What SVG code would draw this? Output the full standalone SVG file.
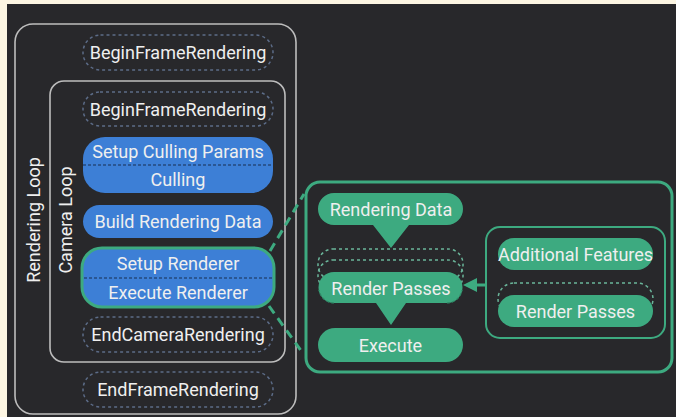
<svg xmlns="http://www.w3.org/2000/svg" width="676" height="417" viewBox="0 0 676 417">
<defs>
<style>
text{font-family:Roboto,"Liberation Sans",sans-serif;font-size:18px;fill:#efefef;text-anchor:middle;dominant-baseline:central}
.loop{fill:none;stroke:#bdbdbd;stroke-width:1.6}
.ghost{fill:none;stroke:#5c6c88;stroke-width:1.5;stroke-dasharray:3 3}
.blue{fill:#3d7fd6}
.div{stroke:#244a7e;stroke-width:1.5;stroke-dasharray:3 2}
.green{fill:#3daa80}
.gframe{fill:none;stroke:#3daa80;stroke-width:3}
.gstack{fill:none;stroke:#6ab59a;stroke-width:1.5;stroke-dasharray:3 3}
.gdash{fill:none;stroke:#3daa80;stroke-width:3;stroke-dasharray:9 6}
.gedge{fill:none;stroke:#2f8a67;stroke-width:1.2;stroke-dasharray:3 2}
</style>
</defs>
<rect x="0" y="0" width="676" height="417" fill="#fdf6e3"/>
<rect x="7" y="4" width="669" height="413" fill="#28282b"/>

<g id="rendering-loop">
<rect class="loop" x="15" y="24" width="281" height="390" rx="18"/>
<text transform="translate(33,220) rotate(-90)">Rendering Loop</text>
</g>
<g id="camera-loop">
<rect class="loop" x="50" y="81" width="235" height="281" rx="14"/>
<text transform="translate(65,220) rotate(-90)">Camera Loop</text>
</g>

<g id="begin-frame-outer">
<rect class="ghost" x="83" y="35" width="190" height="35" rx="17.5"/>
<text x="178" y="52.5">BeginFrameRendering</text>
</g>
<g id="begin-frame-inner">
<rect class="ghost" x="83" y="92" width="190" height="34" rx="17"/>
<text x="178" y="109">BeginFrameRendering</text>
</g>
<g id="culling">
<rect class="blue" x="83" y="137" width="190" height="56" rx="22"/>
<line class="div" x1="83" y1="165" x2="273" y2="165"/>
<text x="178" y="151">Setup Culling Params</text>
<text x="178" y="179">Culling</text>
</g>
<g id="build-rendering-data">
<rect class="blue" x="83" y="205" width="190" height="33" rx="16.5"/>
<text x="178" y="221.5">Build Rendering Data</text>
</g>
<g id="renderer">
<rect class="blue" x="82" y="248" width="192" height="59" rx="20" stroke="#3daa80" stroke-width="3"/>
<line class="div" x1="84" y1="278" x2="272" y2="278"/>
<text x="178" y="263">Setup Renderer</text>
<text x="178" y="292">Execute Renderer</text>
</g>
<g id="end-camera">
<rect class="ghost" x="83" y="317" width="190" height="35" rx="17.5"/>
<text x="178" y="334.5">EndCameraRendering</text>
</g>
<g id="end-frame">
<rect class="ghost" x="83" y="372" width="190" height="35" rx="17.5"/>
<text x="178" y="389.5">EndFrameRendering</text>
</g>

<g id="renderer-detail">
<rect class="gframe" x="306" y="182" width="366" height="190" rx="14"/>
</g>
<g id="rendering-data">
<path class="green" d="M334,193 H447 A16,16 0 0 1 447,225 H409 L391,248 L373,225 H334 A16,16 0 0 1 334,193 Z"/>
<text x="391" y="209">Rendering Data</text>
</g>
<g id="render-passes">
<rect class="gstack" x="318" y="249" width="145" height="31" rx="15"/>
<rect class="gstack" x="318" y="260" width="145" height="31" rx="15"/>
<path class="green" d="M334,272 H447 A15.5,15.5 0 0 1 447,303 H406 L391,325 L376,303 H334 A15.5,15.5 0 0 1 334,272 Z"/>
<path class="gedge" d="M334,303 A15.5,15.5 0 0 1 319,290 M447,303 A15.5,15.5 0 0 0 462,290"/>
<text x="391" y="288">Render Passes</text>
</g>
<g id="execute">
<rect class="green" x="318" y="328" width="145" height="34" rx="17"/>
<text x="390.5" y="345">Execute</text>
</g>
<g id="extensions">
<rect fill="none" stroke="#3daa80" stroke-width="2" x="486" y="227" width="179" height="111" rx="14"/>
</g>
<g id="additional-features">
<rect class="green" x="498" y="238" width="155" height="32" rx="16"/>
<text x="575.5" y="254">Additional Features</text>
</g>
<g id="custom-render-passes">
<rect class="gstack" x="498" y="283" width="155" height="32" rx="16"/>
<rect class="green" x="498" y="295" width="155" height="32" rx="16"/>
<text x="575.5" y="311">Render Passes</text>
</g>

<g id="connectors">
<line class="gdash" x1="270" y1="251" x2="304" y2="194"/>
<line class="gdash" x1="269" y1="306" x2="302" y2="352"/>
<line x1="486" y1="285" x2="475" y2="285" stroke="#3daa80" stroke-width="3"/>
<polygon points="463,285 477,278 477,292" fill="#3daa80"/>
</g>
</svg>
